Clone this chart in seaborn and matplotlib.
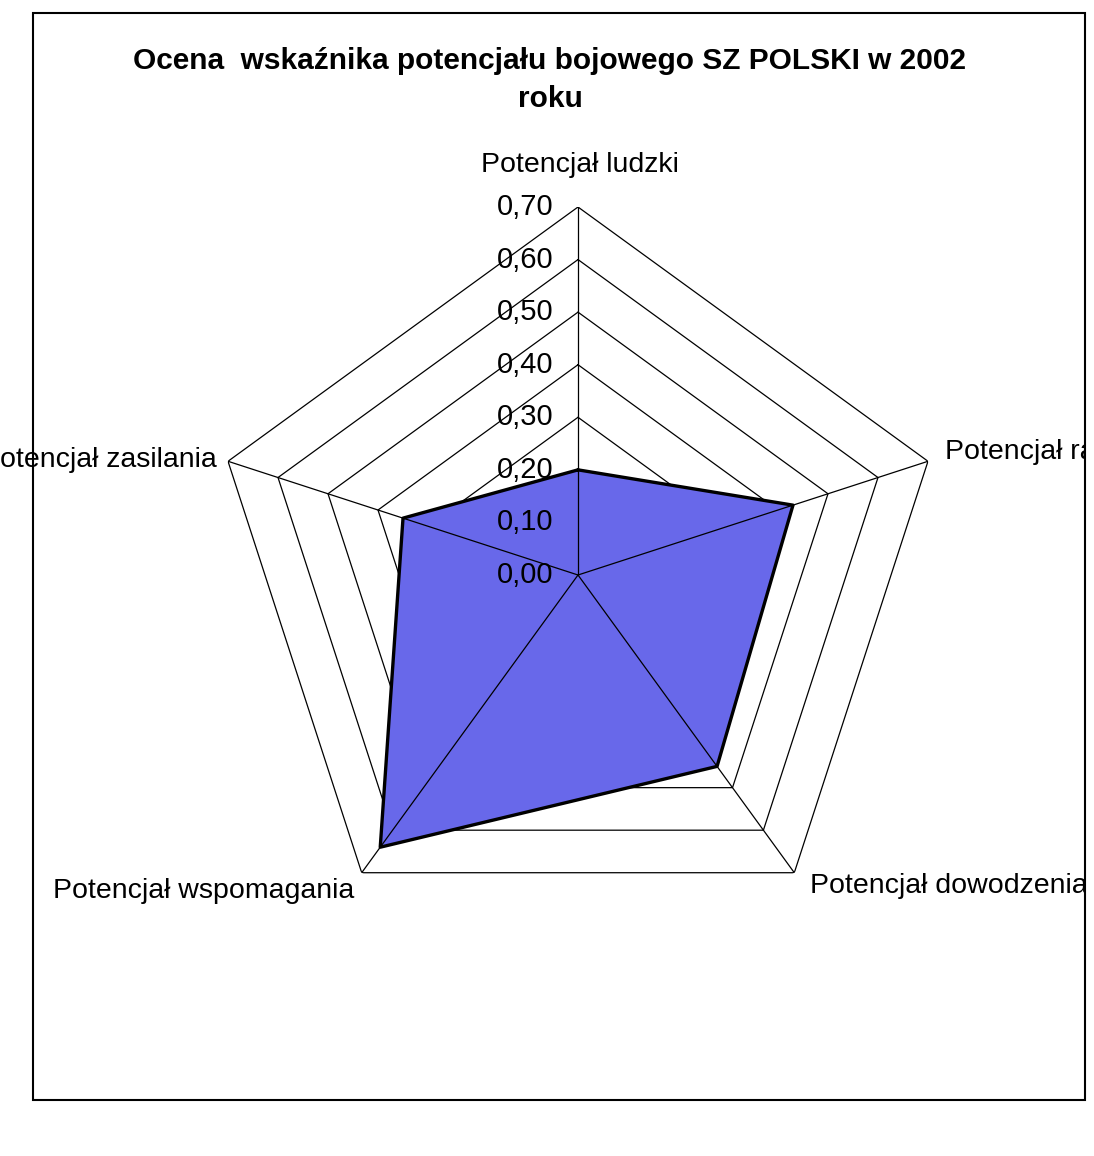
import numpy as np
import pandas as pd
import matplotlib
matplotlib.use("Agg")
import matplotlib.pyplot as plt
import matplotlib.patches as patches
import seaborn as sns

title = "Ocena  wskaźnika potencjału bojowego SZ POLSKI w 2002\nroku"
categories = ["Potencjał ludzki", "Potencjał rażenia", "Potencjał dowodzenia",
              "Potencjał wspomagania", "Potencjał zasilania"]
values = [0.20, 0.43, 0.45, 0.64, 0.35]
levels = [0.0, 0.1, 0.2, 0.3, 0.4, 0.5, 0.6, 0.7]
level_labels = ["0,00", "0,10", "0,20", "0,30", "0,40", "0,50", "0,60", "0,70"]

sns.set_theme(style="white")
plt.rcParams["font.family"] = ["Liberation Sans", "DejaVu Sans"]

W, H = 1094, 1156
fig = plt.figure(figsize=(W / 100, H / 100), dpi=100)
fig.patch.set_facecolor("white")

# polar axes placed so the center sits at (578, 575) px with radius 368 px
cx, cy, R = 578, 575, 368
ax = fig.add_axes([(cx - R) / W, (H - cy - R) / H, 2 * R / W, 2 * R / H],
                  projection="polar")
ax.set_theta_zero_location("N")
ax.set_theta_direction(-1)
ax.set_ylim(0, 0.7)
ax.set_xticks([])
ax.set_yticks([])
ax.grid(False)
ax.spines["polar"].set_visible(False)
ax.patch.set_alpha(0)

n = len(categories)
theta = np.arange(n) * 2 * np.pi / n
theta_closed = np.append(theta, theta[0])

# pentagon rings
for lv in levels[1:]:
    ax.plot(theta_closed, [lv] * (n + 1), color="black", lw=0.9, zorder=1)

df = pd.DataFrame({"theta": theta_closed, "value": values + values[:1]})
ax.fill(df["theta"], df["value"], color="#6868EA", zorder=2)

# spokes
for t in theta:
    ax.plot([t, t], [0, 0.7], color="black", lw=0.9, zorder=3)

sns.lineplot(data=df, x="theta", y="value", sort=False, estimator=None,
             color="black", lw=2.4, ax=ax, zorder=4)
ax.set_xlabel("")
ax.set_ylabel("")

for lv, lab in zip(levels, level_labels):
    ax.annotate(lab, xy=(0, lv), xytext=(-25, 0), textcoords="offset pixels",
                ha="right", va="center", fontsize=21, color="black", zorder=5)

clip = patches.Rectangle((0, 0), 1085 / W, 1, transform=fig.transFigure)
offsets = [(2, 42, "center"), (17, 9, "left"), (16, -13, "left"),
           (-7, -18, "right"), (-11, 1, "right")]
for t, lab, (dx, dy, ha) in zip(theta, categories, offsets):
    txt = ax.annotate(lab, xy=(t, 0.7), xytext=(dx, dy), textcoords="offset pixels",
                      ha=ha, va="center", fontsize=20.5, color="black",
                      annotation_clip=False)
    txt.set_clip_on(True)
    txt.set_clip_path(clip)

fig.text(550 / W, 1 - 80 / H, title, ha="center", va="center", fontsize=21.5,
         fontweight="bold", color="black", linespacing=1.45)

frame = patches.Rectangle((33 / W, (H - 1100) / H), (1085 - 33) / W, (1100 - 13) / H,
                          transform=fig.transFigure, fill=False, edgecolor="black",
                          lw=1.5)
fig.patches.append(frame)

fig.savefig("out.png", dpi=100)
